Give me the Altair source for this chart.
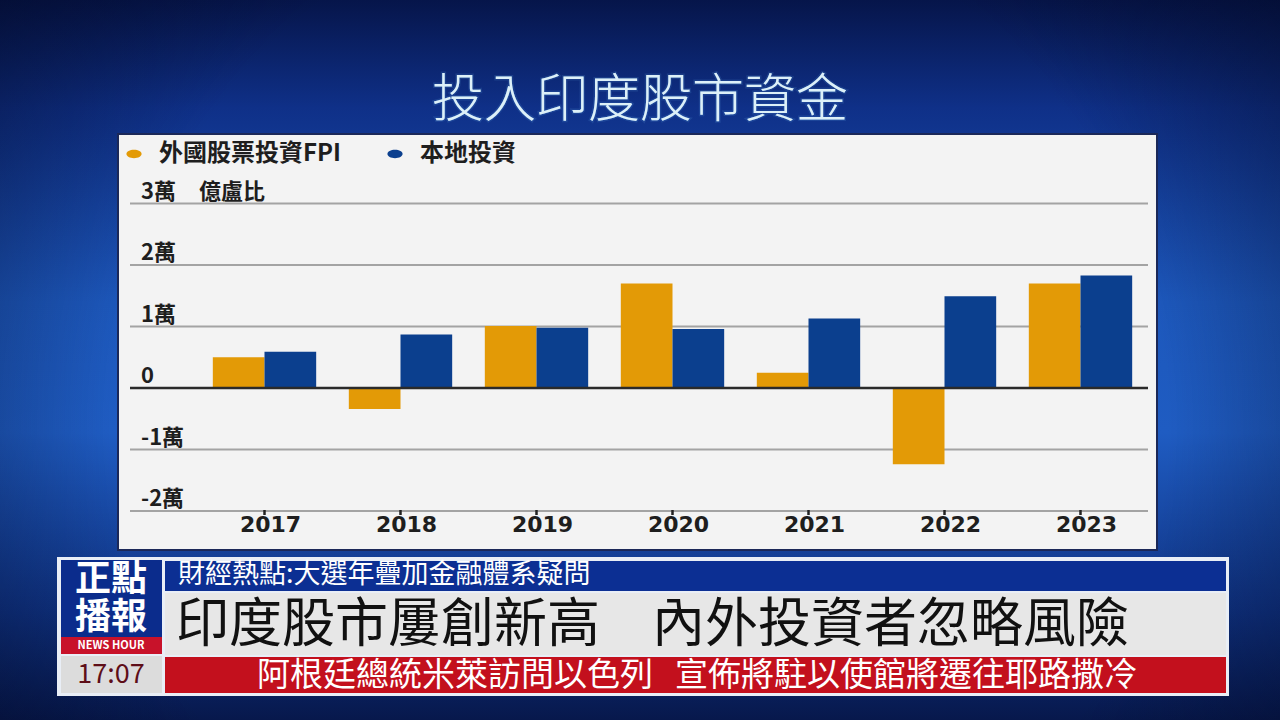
import altair as alt
import pandas as pd

# ---------------- data ----------------
years = ["2017", "2018", "2019", "2020", "2021", "2022", "2023"]
series = ["外國股票投資FPI", "本地投資"]
fpi_values = [5000, -3400, 10100, 17000, 2500, -12400, 17000]
local_values = [5900, 8700, 9800, 9600, 11300, 14900, 18300]
tick_values = [-20000, -10000, 0, 10000, 20000, 30000]
tick_labels = ["-2萬", "-1萬", "0", "1萬", "2萬", "3萬"]
unit_label = "億盧比"
series_colors = ["#E39A06", "#0B3F8E"]

rows = []
for y, f, l in zip(years, fpi_values, local_values):
    rows.append({"year": y, "series": series[0], "value": f})
    rows.append({"year": y, "series": series[1], "value": l})
bars_df = pd.DataFrame(rows)
ticks_df = pd.DataFrame({"tick": tick_values, "label": tick_labels})
years_df = pd.DataFrame({"year": years})

FONT = "Noto Sans CJK TC"
one = alt.Data(values=[{}])

# ---------------- scales ----------------
xscale = alt.Scale(domain=years, range=[196.5, 1148.5], paddingInner=0.24, paddingOuter=0.12)
yscale = alt.Scale(domain=[-20000, 30000], range=[511, 203.5], nice=False, zero=False)


def box(x, y, x2, y2, **kw):
    return alt.Chart(one).mark_rect(**kw).encode(
        x=alt.value(x), x2=alt.value(x2), y=alt.value(y), y2=alt.value(y2)
    )


def txt(s, x, y, **kw):
    return alt.Chart(one).mark_text(text=s, font=FONT, **kw).encode(
        x=alt.value(x), y=alt.value(y)
    )


# ---------------- background ----------------
bg = box(0, 0, 1280, 720, fill=alt.LinearGradient(
    gradient="linear", x1=0, y1=0, x2=0, y2=1,
    stops=[
        alt.GradientStop(color="#06154A", offset=0),
        alt.GradientStop(color="#0F3088", offset=0.15),
        alt.GradientStop(color="#1D58BC", offset=0.42),
        alt.GradientStop(color="#1F5CC2", offset=0.6),
        alt.GradientStop(color="#0F3282", offset=0.85),
        alt.GradientStop(color="#07184C", offset=1),
    ]))
vignette = box(0, 0, 1280, 720, fill=alt.RadialGradient(
    gradient="radial", x1=0.5, y1=0.55, x2=0.5, y2=0.55, r1=0, r2=0.75,
    stops=[
        alt.GradientStop(color="rgba(2,8,35,0)", offset=0),
        alt.GradientStop(color="rgba(2,8,35,0)", offset=0.55),
        alt.GradientStop(color="rgba(2,8,35,0.85)", offset=1),
    ]))

title_glow = txt("投入印度股市資金", 640, 101, fontSize=52, fontWeight=300, align="center",
                 baseline="middle", color="#7CCBFF", stroke="#7CCBFF", strokeWidth=3,
                 strokeOpacity=0.25, opacity=0.5)
title = txt("投入印度股市資金", 640, 101, fontSize=52, fontWeight=300, align="center",
            baseline="middle", color="#DDF0F8")

panel = box(118, 134, 1157, 550, fill="#F3F3F3", stroke="#1B2858", strokeWidth=2)

# ---------------- chart marks ----------------
grid = alt.Chart(ticks_df).transform_filter("datum.tick != 0").mark_rule(
    color="#A3A3A3", strokeWidth=2
).encode(y=alt.Y("tick:Q", scale=yscale, axis=None), x=alt.value(130), x2=alt.value(1148))

zero = alt.Chart(ticks_df).transform_filter("datum.tick == 0").mark_rule(
    color="#2A2A2A", strokeWidth=2.5
).encode(y=alt.Y("tick:Q", scale=yscale, axis=None), x=alt.value(130), x2=alt.value(1148))

ylabels = alt.Chart(ticks_df).mark_text(
    font=FONT, fontSize=22, fontWeight="bold", align="left", baseline="alphabetic",
    dy=-5, color="#1E1E1E"
).encode(y=alt.Y("tick:Q", scale=yscale, axis=None), x=alt.value(141), text="label:N")

unit = alt.Chart(ticks_df).transform_filter("datum.tick == 30000").mark_text(
    font=FONT, fontSize=22, fontWeight="bold", align="left", baseline="alphabetic",
    dy=-5, color="#1E1E1E", text=unit_label
).encode(y=alt.Y("tick:Q", scale=yscale, axis=None), x=alt.value(199))

bars = alt.Chart(bars_df).mark_bar().encode(
    x=alt.X("year:N", scale=xscale, axis=None, sort=years),
    xOffset=alt.XOffset("series:N", sort=series, scale=alt.Scale(paddingInner=0, paddingOuter=0)),
    y=alt.Y("value:Q", scale=yscale, axis=None),
    color=alt.Color(
        "series:N", sort=series,
        scale=alt.Scale(domain=series, range=series_colors),
        legend=alt.Legend(
            orient="none", legendX=122, legendY=142, direction="horizontal", title=None,
            labelFont=FONT, labelFontSize=24, labelFontWeight="bold", labelColor="#1E1E1E",
            symbolType="M-1,0A1,0.55 0 1 0 1,0A1,0.55 0 1 0 -1,0Z",
            symbolSize=230, symbolStrokeWidth=0, labelOffset=13, columnPadding=42,
            labelLimit=400, padding=0,
        ),
    ),
)

xticks = alt.Chart(years_df).mark_rule(color="#222222", strokeWidth=2.5).encode(
    x=alt.X("year:N", scale=xscale, axis=None, sort=years),
    y=alt.value(510), y2=alt.value(515),
)
xlabels = alt.Chart(years_df).mark_text(
    font="DejaVu Sans", fontSize=22, fontWeight="bold", baseline="middle", dx=6, color="#1E1E1E"
).encode(
    x=alt.X("year:N", scale=xscale, axis=None, sort=years),
    y=alt.value(525), text="year:N",
)

# ---------------- news banner ----------------
banner = [
    box(57, 557, 1229, 696, fill="#E9EEF6"),
    box(61, 560, 162, 637, fill="#0B2C8C"),
    box(61, 637, 162, 654, fill="#C8122A"),
    box(61, 656, 162, 693, fill="#DCDCDC"),
    box(165, 561, 1226, 591, fill="#0C2F93"),
    box(165, 593, 1226, 655, fill="#E7E7E7"),
    box(165, 657, 1226, 693, fill="#C3101D"),
    txt(["正點", "播報"], 111, 580, fontSize=36, fontWeight="bold", align="center",
        baseline="middle", lineHeight=38, color="#FFFFFF"),
    txt("NEWS HOUR", 111, 646, fontSize=11, fontWeight="bold", align="center", baseline="middle",
        color="#FFFFFF"),
    txt("17:07", 111, 675, fontSize=27, align="center", baseline="middle", color="#5E0E18"),
    txt("財經熱點:大選年疊加金融體系疑問", 178, 575, fontSize=27, align="left", baseline="middle",
        color="#FFFFFF"),
    txt("印度股市屢創新高", 176, 626, fontSize=53, align="left", baseline="middle", color="#111111"),
    txt("內外投資者忽略風險", 652, 626, fontSize=53, align="left", baseline="middle", color="#111111"),
    txt("阿根廷總統米萊訪問以色列\u00a0\u00a0\u00a0宣佈將駐以使館將遷往耶路撒冷", 697, 676, fontSize=33,
        align="center", baseline="middle", color="#FFFFFF"),
]

chart = alt.layer(
    bg, vignette, title_glow, title, panel,
    grid, bars, zero, ylabels, unit, xticks, xlabels,
    *banner,
).properties(
    width=1280, height=720,
    autosize=alt.AutoSizeParams(type="none"),
    padding=0,
    background="#06154A",
).configure_view(stroke=None)

chart.save("out.html", embed_options={"renderer": "svg", "actions": False})
